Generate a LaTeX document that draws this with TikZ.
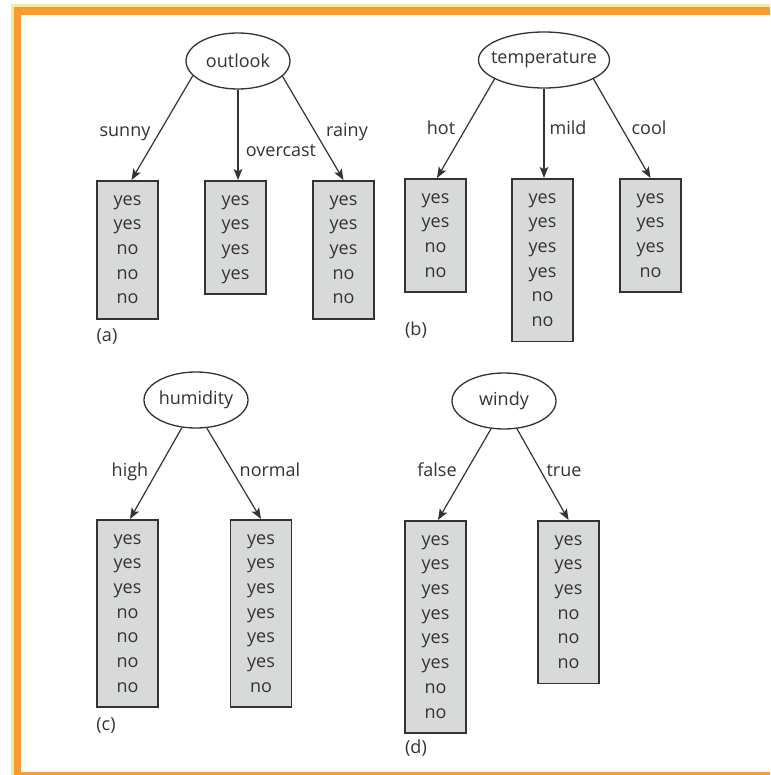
\documentclass[tikz,border=0pt]{standalone}
\usepackage{fontspec}
\setmainfont{Open Sans}
\usetikzlibrary{shapes.geometric,arrows.meta}
\definecolor{txt}{HTML}{333333}
\definecolor{leaffill}{HTML}{D8DAD9}
\definecolor{edgecol}{HTML}{333333}
\definecolor{frameorange}{HTML}{FA9A32}
\definecolor{frameyellow}{HTML}{F0EE9C}
\newcommand\toprowstrut{\rule{0pt}{14pt}}
\newcommand\botrowstrut{\rule[-4.5pt]{0pt}{4.5pt}}
\begin{document}
\begin{tikzpicture}[x=1pt,y=-1pt,
  font=\fontsize{18}{24.7}\selectfont, text=txt,
  attr/.style={ellipse, draw=edgecol, line width=1.3pt, inner sep=0pt, minimum height=56pt},
  leaf/.style={rectangle, draw=edgecol, fill=leaffill, line width=1.6pt,
    minimum width=61pt, inner xsep=2pt, inner ysep=10.35pt, align=center, anchor=north},
  lab/.style={anchor=base},
  arr/.style={-{Stealth[length=11pt,width=8.5pt,inset=2.5pt]}, line width=1.2pt, draw=edgecol}]
\useasboundingbox (0,0) rectangle (770,775);
\fill[white] (0,0) rectangle (770,775);
\fill[frameyellow] (11,4) rectangle (770,775);
\fill[frameorange] (14,7) rectangle (770,775);
\fill[white] (21,15) rectangle (770,772);

% (a)
\node[attr, minimum width=104pt] (outlook) at (238,61) {\makebox[0pt]{outlook}};
\node[leaf] (a1) at (127.5,180) {\toprowstrut yes\\yes\\no\\no\\no\botrowstrut};
\node[leaf] (a2) at (235.5,180) {\toprowstrut yes\\yes\\yes\\yes\botrowstrut};
\node[leaf] (a3) at (343.5,180) {\toprowstrut yes\\yes\\yes\\no\\no\botrowstrut};
\draw[arr] (outlook.198) -- ([xshift=4pt]a1.north);
\draw[arr] (outlook.south) -- ([xshift=2.5pt]a2.north);
\draw[arr] (outlook.341) -- (a3.north);
\node[lab] (lsunny) at (125,137) {sunny};
\node[lab] (lover) at (281,157) {overcast};
\node[lab] (lrainy) at (347,137) {rainy};
\node[lab] (ta) at (107,341) {(a)};

% (b)
\node[attr, minimum width=131pt] (temp) at (544,60) {\makebox[0pt]{temperature}};
\node[leaf] (b1) at (435.5,178) {\toprowstrut yes\\yes\\no\\no\botrowstrut};
\node[leaf] (b2) at (542.5,178) {\toprowstrut yes\\yes\\yes\\yes\\no\\no\botrowstrut};
\node[leaf] (b3) at (650.5,178) {\toprowstrut yes\\yes\\yes\\no\botrowstrut};
\draw[arr] (temp.201) -- ([xshift=1.5pt]b1.north);
\draw[arr] (temp.south) -- ([xshift=1.5pt]b2.north);
\draw[arr] (temp.339) -- (b3.north);
\node[lab] (lhot) at (441,135) {hot};
\node[lab] (lmild) at (568,135) {mild};
\node[lab] (lcool) at (649,135) {cool};
\node[lab] (tb) at (416,335) {(b)};

% (c)
\node[attr, minimum width=104pt] (hum) at (196,400) {\makebox[0pt]{humidity}};
\node[leaf] (c1) at (127.5,519) {\toprowstrut yes\\yes\\yes\\no\\no\\no\\no\botrowstrut};
\node[leaf] (c2) at (261,519) {\toprowstrut yes\\yes\\yes\\yes\\yes\\yes\\no\botrowstrut};
\draw[arr] (hum.243) -- ([xshift=2.5pt]c1.north);
\draw[arr] (hum.291) -- (c2.north);
\node[lab] (lhigh) at (130,476) {high};
\node[lab] (lnormal) at (270,476) {normal};
\node[lab] (tc) at (106,730) {(c)};

% (d)
\node[attr, minimum width=104pt] (windy) at (504,401) {\makebox[0pt]{windy}};
\node[leaf] (d1) at (435.5,520) {\toprowstrut yes\\yes\\yes\\yes\\yes\\yes\\no\\no\botrowstrut};
\node[leaf] (d2) at (568.5,520) {\toprowstrut yes\\yes\\yes\\no\\no\\no\botrowstrut};
\draw[arr] (windy.245) -- ([xshift=2.5pt]d1.north);
\draw[arr] (windy.295) -- (d2.north);
\node[lab] (lfalse) at (437,476) {false};
\node[lab] (ltrue) at (564,476) {true};
\node[lab] (td) at (416,753) {(d)};
\end{tikzpicture}
\end{document}
